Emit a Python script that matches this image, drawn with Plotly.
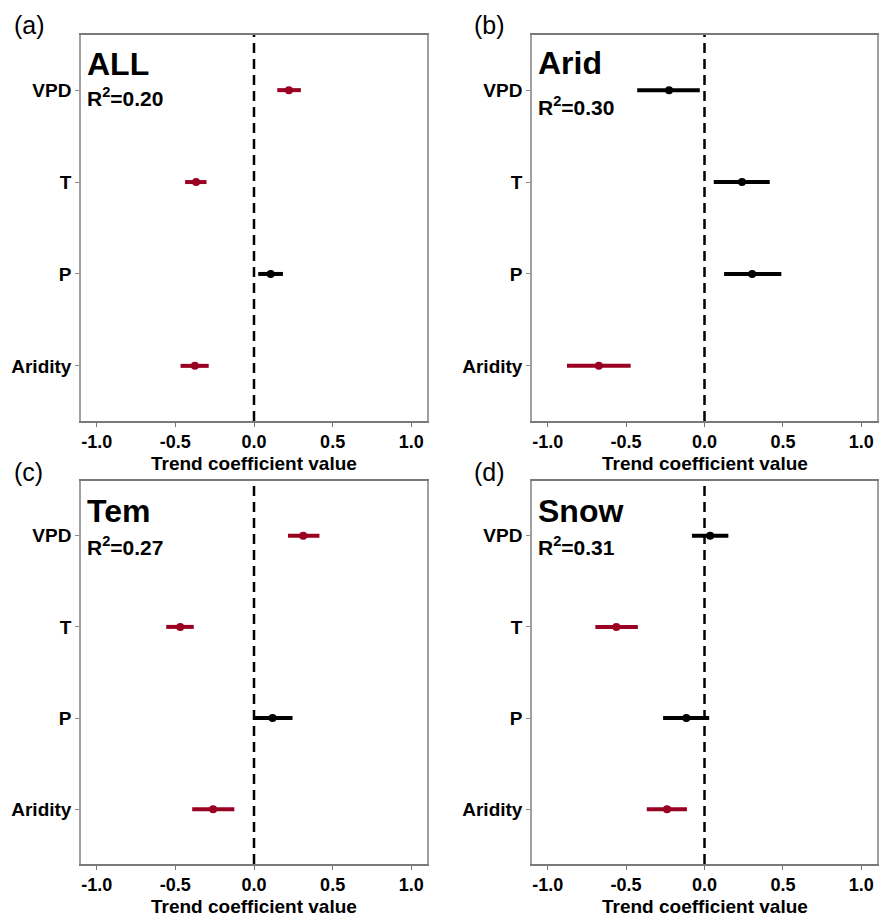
import plotly.graph_objects as go

# ---------------- data ----------------
variables = ["VPD", "T", "P", "Aridity"]
category_order = ["Aridity", "P", "T", "VPD"]   # bottom -> top
panel_letters = ["(a)", "(b)", "(c)", "(d)"]
panel_names = ["ALL", "Arid", "Tem", "Snow"]
r2_values = ["0.20", "0.30", "0.27", "0.31"]
x_ticks = [-1.0, -0.5, 0.0, 0.5, 1.0]
x_tick_labels = ["-1.0", "-0.5", "0.0", "0.5", "1.0"]
x_title = "Trend coefficient value"

# coefficient estimates (order: VPD, T, P, Aridity)
coef_all = [0.222, -0.368, 0.106, -0.376]
low_all = [0.148, -0.438, 0.027, -0.467]
high_all = [0.298, -0.302, 0.184, -0.288]
sig_all = [True, True, False, True]

coef_arid = [-0.226, 0.239, 0.304, -0.674]
low_arid = [-0.429, 0.059, 0.125, -0.877]
high_arid = [-0.030, 0.416, 0.490, -0.471]
sig_arid = [False, False, False, True]

coef_tem = [0.313, -0.469, 0.118, -0.260]
low_tem = [0.216, -0.558, 0.000, -0.393]
high_tem = [0.416, -0.383, 0.245, -0.125]
sig_tem = [True, True, False, True]

coef_snow = [0.036, -0.562, -0.116, -0.239]
low_snow = [-0.080, -0.696, -0.264, -0.368]
high_snow = [0.152, -0.425, 0.030, -0.112]
sig_snow = [False, True, False, True]

panels = [
    (coef_all, low_all, high_all, sig_all),
    (coef_arid, low_arid, high_arid, sig_arid),
    (coef_tem, low_tem, high_tem, sig_tem),
    (coef_snow, low_snow, high_snow, sig_snow),
]

# ---------------- layout geometry (pixels) ----------------
W, H = 889, 919
RED = "#990022"
BLACK = "#000000"
FONT = "Liberation Sans, Arial, sans-serif"

# plot-area boxes: (left, top, right, bottom)
boxes = [(81, 35, 427, 421), (532, 35, 877, 421),
         (81, 481, 427, 864), (532, 481, 877, 864)]
letter_pos = [(12, 25), (472, 25), (12, 472), (472, 472)]
name_dy = [29, 28, 30, 30]
r2_dy = [62, 71, 65, 65]
title_gap = 54   # axis line -> bottom of axis-title box


def px(x):
    return x / W


def py(y):
    return 1 - y / H


fig = go.Figure()
annotations = []
shapes = []

for i, (coef, lo, hi, sig) in enumerate(panels):
    ax = "" if i == 0 else str(i + 1)
    xa, ya = "x" + ax, "y" + ax
    for flag, col in [(True, RED), (False, BLACK)]:
        xs = [c for c, s in zip(coef, sig) if s == flag]
        ys = [v for v, s in zip(variables, sig) if s == flag]
        plus = [h - c for c, h, s in zip(coef, hi, sig) if s == flag]
        minus = [c - l for c, l, s in zip(coef, lo, sig) if s == flag]
        if not xs:
            continue
        fig.add_trace(go.Scatter(
            x=xs, y=ys, mode="markers", xaxis=xa, yaxis=ya,
            marker=dict(color=col, size=8),
            error_x=dict(type="data", symmetric=False, array=plus,
                         arrayminus=minus, width=0, thickness=4, color=col),
            showlegend=False, hoverinfo="x+y"))

    l, t, r, b = boxes[i]
    fig.update_layout(**{
        ("xaxis" + ax): dict(
            domain=[px(l), px(r)], anchor=ya, range=[-1.1, 1.1],
            tickvals=x_ticks, ticktext=x_tick_labels,
            showgrid=False, zeroline=False, showline=True, mirror=True,
            linecolor="#7a7a7a", linewidth=1.5,
            ticks="outside", ticklen=4, tickwidth=1.2, tickcolor="#7a7a7a",
            tickfont=dict(family=FONT, size=18, color="black", weight="bold")),
        ("yaxis" + ax): dict(
            domain=[py(b), py(t)], anchor=xa, type="category",
            categoryorder="array", categoryarray=category_order,
            range=[-0.6, 3.6],
            showgrid=False, zeroline=False, showline=True, mirror=True,
            linecolor="#a0a0a0", linewidth=1.5,
            ticks="outside", ticklen=4, tickwidth=1.2, tickcolor="#8a8a8a",
            tickfont=dict(family=FONT, size=19, color="black", weight="bold")),
    })

    # dashed zero line
    shapes.append(dict(type="line", xref=xa, yref=ya + " domain",
                       x0=0, x1=0, y0=0, y1=1,
                       line=dict(color="black", width=2.5, dash="10px,6px")))

    # panel letter
    lx, ly = letter_pos[i]
    annotations.append(dict(text=panel_letters[i], xref="paper", yref="paper",
                            x=px(lx), y=py(ly), xanchor="left", yanchor="middle",
                            showarrow=False,
                            font=dict(family=FONT, size=25, color="black")))
    # group name
    annotations.append(dict(text=panel_names[i], xref="paper", yref="paper",
                            x=px(l + 4), y=py(t + name_dy[i]), xanchor="left",
                            yanchor="middle", showarrow=False,
                            font=dict(family=FONT, size=32, color="black",
                                      weight="bold")))
    # R2
    annotations.append(dict(text="R<sup>2</sup>=" + r2_values[i],
                            xref="paper", yref="paper",
                            x=px(l + 4), y=py(t + r2_dy[i]), xanchor="left",
                            yanchor="middle", showarrow=False,
                            font=dict(family=FONT, size=21, color="black",
                                      weight="bold")))
    # x-axis title
    annotations.append(dict(text=x_title, xref="paper", yref="paper",
                            x=px((l + r) / 2), y=py(b + title_gap),
                            xanchor="center", yanchor="bottom",
                            showarrow=False, borderpad=0,
                            font=dict(family=FONT, size=19, color="black",
                                      weight="bold")))

fig.update_layout(width=W, height=H, margin=dict(l=0, r=0, t=0, b=0),
                  plot_bgcolor="white", paper_bgcolor="white",
                  annotations=annotations, shapes=shapes, showlegend=False)

fig.write_html("out.html", config={"displayModeBar": False})
